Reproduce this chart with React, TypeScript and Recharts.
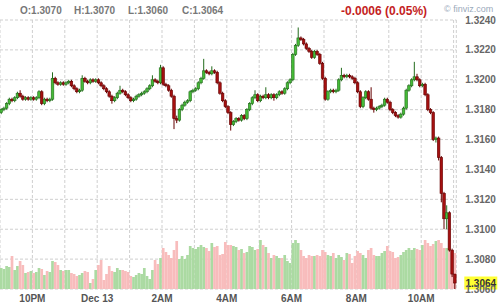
import { ComposedChart, Bar, XAxis, YAxis, CartesianGrid, ReferenceLine } from "recharts";

// 5-minute candles, 9:00 PM to 11:00 AM (one row per hour)
const openPrices = [
  1.3178, 1.318, 1.3181, 1.3184, 1.3187, 1.3186, 1.3188, 1.3191, 1.3189, 1.3187, 1.3188, 1.3187,
  1.3188, 1.3187, 1.3188, 1.3192, 1.3184, 1.3187, 1.3186, 1.3187, 1.3201, 1.3198, 1.3197, 1.3198,
  1.3197, 1.3198, 1.3199, 1.3196, 1.3194, 1.3192, 1.3193, 1.3201, 1.3199, 1.3198, 1.32, 1.3199,
  1.32, 1.3198, 1.3196, 1.3194, 1.3192, 1.3189, 1.3186, 1.3188, 1.3191, 1.3193, 1.3192, 1.319,
  1.3188, 1.3186, 1.3187, 1.3189, 1.319, 1.3191, 1.3192, 1.3194, 1.3196, 1.32, 1.3199, 1.3198,
  1.3208, 1.3197, 1.3196, 1.3193, 1.3189, 1.3174, 1.3173, 1.318, 1.3183, 1.3185, 1.3186, 1.3192,
  1.3193, 1.3194, 1.3198, 1.3201, 1.3206, 1.3205, 1.3204, 1.3206, 1.3205, 1.3198, 1.3191, 1.3186,
  1.3182, 1.3178, 1.317, 1.3172, 1.3174, 1.3173, 1.3176, 1.3174, 1.318, 1.3184, 1.3188, 1.319,
  1.3186, 1.3189, 1.3188, 1.319, 1.3188, 1.319, 1.3188, 1.319, 1.3192, 1.3191, 1.3194, 1.3198,
  1.32, 1.3217, 1.3223, 1.3228, 1.3227, 1.3224, 1.3221, 1.3219, 1.3215, 1.3219, 1.3217, 1.3211,
  1.3201, 1.3187, 1.3192, 1.3193, 1.3192, 1.3193, 1.32, 1.3203, 1.3202, 1.3203, 1.3202, 1.3201,
  1.3198, 1.3192, 1.3182, 1.3188, 1.3192, 1.3187, 1.3181, 1.318, 1.3181, 1.3182, 1.3183, 1.3187,
  1.3185, 1.318, 1.3178, 1.3176, 1.3175, 1.3177, 1.3181, 1.3193, 1.3196, 1.32, 1.3202, 1.32,
  1.3196, 1.3197, 1.319, 1.318, 1.3178, 1.316, 1.3161, 1.3148, 1.3124, 1.3107, 1.3111, 1.3086, 1.307,
];

const highPrices = [
  1.3181, 1.3182, 1.3185, 1.3188, 1.3188, 1.3189, 1.3192, 1.3193, 1.319, 1.3189, 1.3189, 1.3189,
  1.3189, 1.3189, 1.3193, 1.3193, 1.3188, 1.3188, 1.3188, 1.3205, 1.3202, 1.3199, 1.3199, 1.3199,
  1.3199, 1.32, 1.32, 1.3197, 1.3195, 1.3194, 1.3203, 1.3202, 1.32, 1.3201, 1.3201, 1.3201,
  1.3201, 1.3199, 1.3197, 1.3195, 1.3193, 1.319, 1.3189, 1.3192, 1.3196, 1.3194, 1.3193, 1.3191,
  1.3189, 1.3188, 1.319, 1.3191, 1.3192, 1.3193, 1.3195, 1.3197, 1.3203, 1.3201, 1.32, 1.321,
  1.3209, 1.3198, 1.3197, 1.3194, 1.319, 1.3176, 1.3181, 1.3184, 1.3186, 1.3187, 1.3193, 1.3194,
  1.3195, 1.3199, 1.3202, 1.3214, 1.3207, 1.3206, 1.3209, 1.3207, 1.3206, 1.3199, 1.3192, 1.3187,
  1.3183, 1.3179, 1.3173, 1.3175, 1.3175, 1.3177, 1.3177, 1.3181, 1.3185, 1.3189, 1.3193, 1.3191,
  1.319, 1.319, 1.3195, 1.3191, 1.3191, 1.3191, 1.3191, 1.3193, 1.3193, 1.3195, 1.3199, 1.3201,
  1.3218, 1.3224, 1.3235, 1.3229, 1.3228, 1.3225, 1.3222, 1.322, 1.322, 1.322, 1.3218, 1.3212,
  1.3202, 1.3193, 1.3194, 1.3194, 1.3194, 1.3201, 1.3208, 1.3204, 1.3204, 1.3204, 1.3203, 1.3202,
  1.3199, 1.3193, 1.3189, 1.3193, 1.3193, 1.3195, 1.3182, 1.3182, 1.3183, 1.3184, 1.3188, 1.3188,
  1.3186, 1.3181, 1.3179, 1.3177, 1.3178, 1.3182, 1.3194, 1.3197, 1.3201, 1.3212, 1.3204, 1.3201,
  1.3198, 1.3198, 1.3191, 1.3181, 1.3179, 1.3162, 1.3162, 1.3149, 1.3125, 1.3116, 1.3112, 1.3087, 1.307,
];

const lowPrices = [
  1.3177, 1.3179, 1.318, 1.3183, 1.3185, 1.3185, 1.3187, 1.3188, 1.3186, 1.3186, 1.3186, 1.3186,
  1.3186, 1.3186, 1.3187, 1.3183, 1.3183, 1.3185, 1.3185, 1.3186, 1.3197, 1.3196, 1.3196, 1.3196,
  1.3196, 1.3197, 1.3195, 1.3193, 1.3191, 1.3191, 1.3192, 1.3198, 1.3197, 1.3197, 1.3198, 1.3198,
  1.3197, 1.3195, 1.3193, 1.3191, 1.3188, 1.3184, 1.3185, 1.3187, 1.319, 1.3191, 1.3189, 1.3187,
  1.3185, 1.3185, 1.3186, 1.3188, 1.3189, 1.319, 1.3191, 1.3193, 1.3195, 1.3198, 1.3197, 1.3197,
  1.3196, 1.3195, 1.3192, 1.3188, 1.3167, 1.3171, 1.3172, 1.3179, 1.3182, 1.3184, 1.3185, 1.3191,
  1.3192, 1.3193, 1.3197, 1.32, 1.3204, 1.3203, 1.3203, 1.3204, 1.3197, 1.319, 1.3185, 1.3181,
  1.3177, 1.3166, 1.3169, 1.3171, 1.3172, 1.3172, 1.3173, 1.3173, 1.3179, 1.3183, 1.3187, 1.3185,
  1.3185, 1.3187, 1.3187, 1.3187, 1.3187, 1.3186, 1.3187, 1.3189, 1.319, 1.319, 1.3193, 1.3197,
  1.3199, 1.3216, 1.3222, 1.3226, 1.3223, 1.322, 1.3218, 1.3214, 1.3214, 1.3216, 1.321, 1.32,
  1.3186, 1.3186, 1.3191, 1.3191, 1.3191, 1.3192, 1.3199, 1.3201, 1.3201, 1.3201, 1.32, 1.3197,
  1.3191, 1.3181, 1.3181, 1.3187, 1.3186, 1.318, 1.3178, 1.3179, 1.318, 1.3181, 1.3182, 1.3184,
  1.3179, 1.3177, 1.3175, 1.3174, 1.3174, 1.3176, 1.318, 1.3192, 1.3195, 1.3199, 1.3199, 1.3195,
  1.3195, 1.3189, 1.3179, 1.3177, 1.3159, 1.3158, 1.3146, 1.3118, 1.31, 1.31, 1.3085, 1.3068, 1.306,
];

const closePrices = [
  1.318, 1.3181, 1.3184, 1.3187, 1.3186, 1.3188, 1.3191, 1.3189, 1.3187, 1.3188, 1.3187, 1.3188,
  1.3187, 1.3188, 1.3192, 1.3184, 1.3187, 1.3186, 1.3187, 1.3201, 1.3198, 1.3197, 1.3198, 1.3197,
  1.3198, 1.3199, 1.3196, 1.3194, 1.3192, 1.3193, 1.3201, 1.3199, 1.3198, 1.32, 1.3199, 1.32,
  1.3198, 1.3196, 1.3194, 1.3192, 1.3189, 1.3186, 1.3188, 1.3191, 1.3193, 1.3192, 1.319, 1.3188,
  1.3186, 1.3187, 1.3189, 1.319, 1.3191, 1.3192, 1.3194, 1.3196, 1.32, 1.3199, 1.3198, 1.3208,
  1.3197, 1.3196, 1.3193, 1.3189, 1.3174, 1.3173, 1.318, 1.3183, 1.3185, 1.3186, 1.3192, 1.3193,
  1.3194, 1.3198, 1.3201, 1.3206, 1.3205, 1.3204, 1.3206, 1.3205, 1.3198, 1.3191, 1.3186, 1.3182,
  1.3178, 1.317, 1.3172, 1.3174, 1.3173, 1.3176, 1.3174, 1.318, 1.3184, 1.3188, 1.319, 1.3186,
  1.3189, 1.3188, 1.319, 1.3188, 1.319, 1.3188, 1.319, 1.3192, 1.3191, 1.3194, 1.3198, 1.32,
  1.3217, 1.3223, 1.3228, 1.3227, 1.3224, 1.3221, 1.3219, 1.3215, 1.3219, 1.3217, 1.3211, 1.3201,
  1.3187, 1.3192, 1.3193, 1.3192, 1.3193, 1.32, 1.3203, 1.3202, 1.3203, 1.3202, 1.3201, 1.3198,
  1.3192, 1.3182, 1.3188, 1.3192, 1.3187, 1.3181, 1.318, 1.3181, 1.3182, 1.3183, 1.3187, 1.3185,
  1.318, 1.3178, 1.3176, 1.3175, 1.3177, 1.3181, 1.3193, 1.3196, 1.32, 1.3202, 1.32, 1.3196,
  1.3197, 1.319, 1.318, 1.3178, 1.316, 1.3161, 1.3148, 1.3124, 1.3107, 1.3111, 1.3086, 1.307, 1.3064,
];

const volumes = [
  21, 20, 23, 22, 33, 19, 23, 28, 24, 16, 17, 18,
  16, 17, 21, 20, 14, 18, 17, 28, 27, 24, 19, 18,
  19, 19, 16, 15, 13, 14, 16, 18, 17, 6, 10, 19,
  24, 29, 9, 15, 23, 18, 17, 21, 19, 19, 18, 17,
  13, 12, 14, 16, 15, 21, 13, 10, 19, 29, 25, 31,
  41, 37, 34, 31, 39, 48, 30, 33, 30, 34, 43, 41,
  40, 42, 44, 42, 41, 38, 46, 42, 43, 34, 35, 47,
  44, 44, 43, 42, 39, 40, 36, 37, 43, 42, 39, 40,
  49, 44, 42, 36, 31, 34, 33, 31, 31, 34, 28, 26,
  46, 49, 46, 39, 33, 31, 34, 33, 33, 34, 33, 39,
  37, 34, 33, 36, 31, 34, 32, 29, 36, 35, 26, 33,
  38, 36, 34, 31, 39, 41, 34, 33, 33, 36, 38, 43,
  38, 37, 31, 32, 34, 37, 39, 41, 39, 41, 40, 39,
  44, 49, 46, 43, 45, 48, 49, 46, 41, 41, 38, 37, 36,
];

// hour boundaries, measured in candle slots from 9:00 PM
const hourTicks = [11.5, 23.5, 35.5, 47.5, 59.5, 71.5, 83.5, 95.5, 107.5, 119.5, 131.5, 143.5, 155.5, 167.5];
const hourLabels = ["10PM", "", "Dec 13", "", "2AM", "", "4AM", "", "6AM", "", "8AM", "", "10AM", ""];
const priceTicks = [1.306, 1.308, 1.31, 1.312, 1.314, 1.316, 1.318, 1.32, 1.322, 1.324];

const lastOpen = 1.307;
const lastHigh = 1.307;
const lastLow = 1.306;
const lastClose = 1.3064;
const change = "-0.0006 (0.05%)";

const data = closePrices.map((close, i) => ({
  i,
  open: openPrices[i],
  high: highPrices[i],
  low: lowPrices[i],
  close,
  range: [lowPrices[i], highPrices[i]],
  volume: volumes[i],
}));

const FONT = "'Liberation Sans', Arial, sans-serif";

function Candle(props: any) {
  const { x, y, width, height, payload } = props;
  if (!payload) return null;
  const { open, close, high, low } = payload;
  const cx = x + width / 2;
  const top = Math.min(y, y + height);
  const h = Math.abs(height);
  const toY = (v: number) => top + ((high - v) / (high - low)) * h;
  const up = close >= open;
  const bTop = toY(Math.max(open, close));
  const bBot = toY(Math.min(open, close));
  const fill = up ? "#45bb37" : "#a51010";
  const edge = up ? "#236b1c" : "#650000";
  return (
    <g>
      <line x1={cx} x2={cx} y1={top} y2={top + h} stroke={edge} strokeWidth={1} />
      <rect x={cx - 1.3} y={bTop} width={2.6} height={Math.max(bBot - bTop, 1)} fill={fill} stroke={edge} strokeWidth={0.6} />
    </g>
  );
}

function VolumeBar(props: any) {
  const { x, y, width, height, payload } = props;
  if (!payload) return null;
  const cx = x + width / 2;
  const up = payload.close >= payload.open;
  return <rect x={cx - 1.35} y={y} width={2.7} height={height} fill={up ? "#abdaa2" : "#f8bcbc"} />;
}

function PriceBadge(props: any) {
  const vb = props.viewBox;
  if (!vb) return null;
  const x = vb.x + vb.width + 8;
  return (
    <g>
      <rect x={x} y={vb.y - 6.5} width={33} height={13} fill="#ffff33" />
      <text x={x + 16.5} y={vb.y} dy="0.355em" textAnchor="middle" fontSize={10} fontWeight="bold" fill="#333" fontFamily={FONT}>
        {lastClose.toFixed(4)}
      </text>
    </g>
  );
}

const hdr: React.CSSProperties = { position: "absolute", top: 5, lineHeight: "12px", fontSize: 10, fontWeight: "bold", color: "#777", whiteSpace: "nowrap" };

export default function App() {
  return (
    <div style={{ position: "absolute", left: 0, top: 0, width: 502, height: 306, background: "#fff", fontFamily: FONT }}>
      <ComposedChart width={502} height={306} data={data} margin={{ top: 20, right: 0, bottom: 0, left: 0 }}>
        <CartesianGrid stroke="#cfcfcf" strokeDasharray="3 2" />
        <XAxis
          type="number"
          dataKey="i"
          domain={[-0.5, 168.5]}
          ticks={hourTicks}
          interval={0}
          tickFormatter={(v: number) => hourLabels[hourTicks.indexOf(v)] ?? ""}
          axisLine={false}
          tickLine={false}
          tickSize={0}
          tickMargin={6}
          height={17}
          tick={{ fontSize: 10, fill: "#555", fontWeight: "bold" }}
        />
        <XAxis xAxisId="v" type="number" dataKey="i" domain={[-0.5, 168.5]} hide />
        <YAxis
          orientation="right"
          domain={[1.306, 1.324]}
          ticks={priceTicks}
          interval={0}
          allowDataOverflow
          tickFormatter={(v: number) => v.toFixed(4)}
          axisLine={false}
          tickLine={false}
          tickSize={0}
          tickMargin={9}
          width={45.7}
          tick={{ fontSize: 10, fill: "#666", fontWeight: "bold" }}
        />
        <YAxis yAxisId="v" domain={[0, 269]} hide />
        <Bar xAxisId="v" yAxisId="v" dataKey="volume" barSize={3} shape={VolumeBar} isAnimationActive={false} />
        <Bar dataKey="range" barSize={3} shape={Candle} isAnimationActive={false} />
        <ReferenceLine y={lastClose} stroke="none" ifOverflow="visible" label={<PriceBadge />} />
      </ComposedChart>
      <span style={{ ...hdr, left: 20 }}>O:{lastOpen.toFixed(4)}</span>
      <span style={{ ...hdr, left: 74 }}>H:{lastHigh.toFixed(4)}</span>
      <span style={{ ...hdr, left: 128 }}>L:{lastLow.toFixed(4)}</span>
      <span style={{ ...hdr, left: 182 }}>C:{lastClose.toFixed(4)}</span>
      <span style={{ ...hdr, left: 341, top: 4, fontSize: 12, lineHeight: "14px", color: "#c41e1e" }}>{change}</span>
      <span style={{ ...hdr, left: 444, top: 3, fontSize: 9, fontWeight: "normal", color: "#9aa9bb" }}>© finviz.com</span>
    </div>
  );
}
